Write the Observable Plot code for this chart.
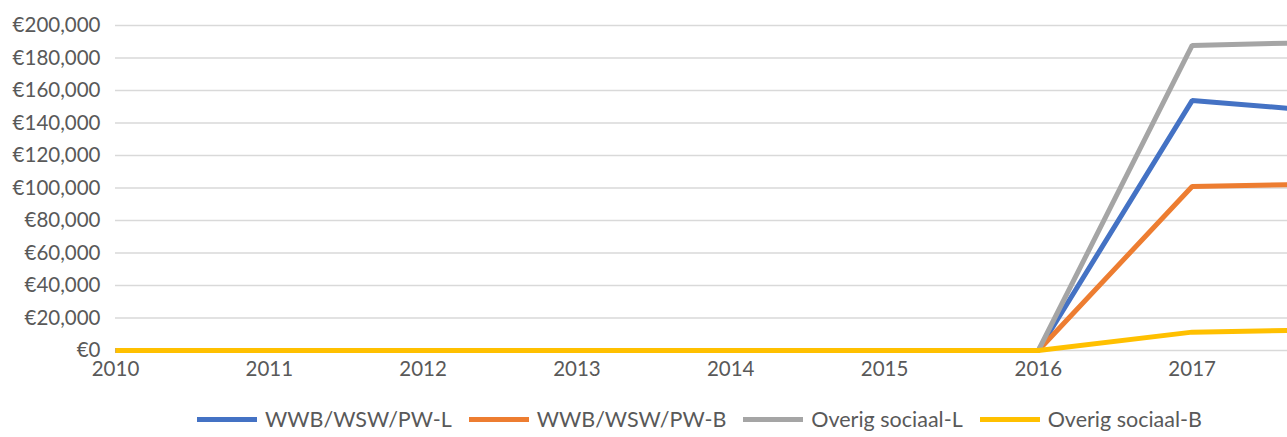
<!DOCTYPE html>
<html>
<head>
<meta charset="utf-8">
<script src="https://cdn.jsdelivr.net/npm/d3@7"></script>
<script src="https://cdn.jsdelivr.net/npm/@observablehq/plot@0.6"></script>
<style>
  html, body { margin: 0; padding: 0; background: #fff; }
  body { width: 1287px; height: 437px; overflow: hidden; font-family: Lato, sans-serif; }
  #chart svg { overflow: hidden; }
  #legend { display: flex; justify-content: flex-start; align-items: center; margin-top: 21px; padding-left: 197px; color: #595959; font-size: 21.5px; font-family: Lato, sans-serif; }
  .item { display: flex; align-items: center; margin-right: 17px; }
  .sw { width: 60px; height: 5px; margin-right: 8px; }
</style>
</head>
<body>
<div id="chart"></div>
<div id="legend"></div>
<script>
const years = [2010, 2011, 2012, 2013, 2014, 2015, 2016, 2017, 2018];
const seriesNames = ["WWB/WSW/PW-L", "WWB/WSW/PW-B", "Overig sociaal-L", "Overig sociaal-B"];
const wwbL = [0, 0, 0, 0, 0, 0, 0, 153800, 146200];
const wwbB = [0, 0, 0, 0, 0, 0, 0, 100900, 102700];
const overigL = [0, 0, 0, 0, 0, 0, 0, 187700, 190000];
const overigB = [0, 0, 0, 0, 0, 0, 0, 11300, 12900];
const colors = ["#4472C4", "#ED7D31", "#A5A5A5", "#FFC000"];
const yTicks = [0, 20000, 40000, 60000, 80000, 100000, 120000, 140000, 160000, 180000, 200000];
const xTicks = [2010, 2011, 2012, 2013, 2014, 2015, 2016, 2017];

const allSeries = [wwbL, wwbB, overigL, overigB];
const data = [];
allSeries.forEach((vals, i) => {
  vals.forEach((v, j) => data.push({year: years[j], value: v, series: seriesNames[i]}));
});

const fmt = v => "€" + d3.format(",")(v);

const chart = Plot.plot({
  width: 1287,
  height: 385,
  marginLeft: 115,
  marginRight: 0,
  marginTop: 25,
  marginBottom: 35,
  style: {fontFamily: "Lato, sans-serif", fontSize: "20.5px", color: "#595959", background: "#fff", overflow: "hidden"},
  x: {domain: [2010, 2017.62], ticks: xTicks, tickFormat: d => String(d), tickSize: 0, label: null},
  y: {domain: [0, 200000], ticks: yTicks, tickFormat: fmt, tickSize: 0, label: null},
  color: {domain: seriesNames, range: colors},
  marks: [
    Plot.gridY(yTicks, {stroke: "#d9d9d9", strokeOpacity: 1, strokeWidth: 1.5}),
    Plot.axisY({ticks: yTicks, tickFormat: fmt, tickSize: 0, tickPadding: 15, fill: "#595959", label: null}),
    Plot.axisX({ticks: xTicks, tickFormat: d => String(d), tickSize: 0, tickPadding: 11, fill: "#595959", label: null}),
    Plot.line(data, {x: "year", y: "value", z: "series", stroke: "series", strokeWidth: 5, strokeLinejoin: "miter", strokeLinecap: "butt"})
  ]
});
document.getElementById("chart").appendChild(chart);

const legend = document.getElementById("legend");
seriesNames.forEach((name, i) => {
  const item = document.createElement("div");
  item.className = "item";
  const sw = document.createElement("div");
  sw.className = "sw";
  sw.style.background = colors[i];
  const t = document.createElement("span");
  t.textContent = name;
  item.appendChild(sw);
  item.appendChild(t);
  legend.appendChild(item);
});
</script>
</body>
</html>
